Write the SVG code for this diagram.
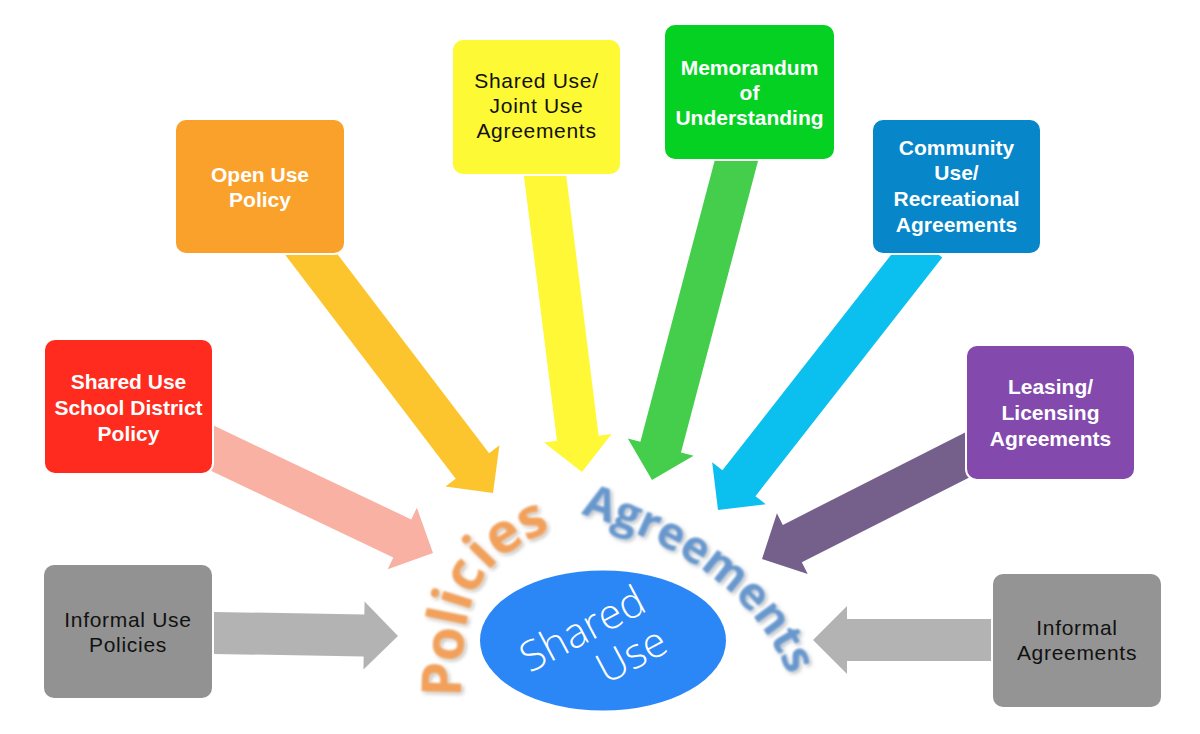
<svg xmlns="http://www.w3.org/2000/svg" width="1200" height="734" viewBox="0 0 1200 734">
<defs>
<style>
.box{stroke:#fff;stroke-width:2}
.w{fill:#fff;font-family:"Liberation Sans",Arial,sans-serif;font-size:21px;font-weight:700;text-anchor:middle}
.k{fill:#111;font-family:"Liberation Sans",Arial,sans-serif;font-size:21px;font-weight:400;letter-spacing:0.7px;text-anchor:middle}
.arc{font-family:"Open Sans","Liberation Sans",sans-serif;font-weight:700}
</style>
<filter id="soft" x="-20%" y="-20%" width="140%" height="140%">
<feGaussianBlur in="SourceAlpha" stdDeviation="2" result="b"/>
<feOffset in="b" dx="2" dy="2" result="o"/>
<feFlood flood-color="#000" flood-opacity="0.3"/>
<feComposite in2="o" operator="in" result="s"/>
<feGaussianBlur in="SourceGraphic" stdDeviation="0.8" result="g"/>
<feMerge><feMergeNode in="s"/><feMergeNode in="g"/></feMerge>
</filter>
<path id="polPath" d="M 461 697 C 462 590, 478 560, 552 530"/>
<path id="agrPath" d="M 581 514 C 676 542, 759 593, 792 684"/>
</defs>
<rect width="1200" height="734" fill="#fff"/>

<g id="connectors">
<polygon fill="#F9B1A3" transform="translate(433,553) rotate(25.4)" points="-258,-21 -34,-21 -34,-34 0,0 -34,34 -34,21 -258,21"/>
<polygon fill="#B3B3B3" transform="translate(398,636) rotate(0.95)" points="-198,-21 -34,-21 -34,-34 0,0 -34,34 -34,21 -198,21"/>
<polygon fill="#FCC52D" transform="translate(493,493) rotate(52.7)" points="-325,-21 -34,-21 -34,-34 0,0 -34,34 -34,21 -325,21"/>
<polygon fill="#FEF836" transform="translate(582,472) rotate(82.9)" points="-310,-21 -34,-21 -34,-34 0,0 -34,34 -34,21 -310,21"/>
<polygon fill="#44CE4B" transform="translate(652,480) rotate(104.8)" points="-341,-21 -34,-21 -34,-34 0,0 -34,34 -34,21 -341,21"/>
<polygon fill="#0BC0EF" transform="translate(718,510) rotate(128.05)" points="-337,-21 -34,-21 -34,-34 0,0 -34,34 -34,21 -337,21"/>
<polygon fill="#74608B" transform="translate(762,559) rotate(153.1)" points="-245,-21 -34,-21 -34,-34 0,0 -34,34 -34,21 -245,21"/>
<polygon fill="#B3B3B3" transform="translate(813,640) rotate(180)" points="-192,-21 -34,-21 -34,-34 0,0 -34,34 -34,21 -192,21"/>
</g>

<g id="node-school-district">
<rect class="box" x="44" y="339" width="169" height="135" rx="11" fill="#FE2B1E"/>
<text class="w"><tspan x="128.5" y="389">Shared Use</tspan><tspan x="128.5" y="415">School District</tspan><tspan x="128.5" y="441">Policy</tspan></text>
</g>
<g id="node-informal-use">
<rect class="box" x="43" y="564" width="170" height="135" rx="11" fill="#929292"/>
<text class="k"><tspan x="128" y="627">Informal Use</tspan><tspan x="128" y="652">Policies</tspan></text>
</g>
<g id="node-open-use">
<rect class="box" x="175" y="119" width="170" height="135" rx="11" fill="#F9A12B"/>
<text class="w"><tspan x="260" y="182">Open Use</tspan><tspan x="260" y="207">Policy</tspan></text>
</g>
<g id="node-joint-use">
<rect class="box" x="452" y="39" width="169" height="136" rx="11" fill="#FDF935"/>
<text class="k"><tspan x="536.5" y="88">Shared Use/</tspan><tspan x="536.5" y="113">Joint Use</tspan><tspan x="536.5" y="138">Agreements</tspan></text>
</g>
<g id="node-mou">
<rect class="box" x="664" y="24" width="171" height="136" rx="11" fill="#05D123"/>
<text class="w"><tspan x="749.5" y="75">Memorandum</tspan><tspan x="749.5" y="100">of</tspan><tspan x="749.5" y="125">Understanding</tspan></text>
</g>
<g id="node-community">
<rect class="box" x="872" y="119" width="169" height="135" rx="11" fill="#0786C9"/>
<text class="w"><tspan x="956.5" y="155">Community</tspan><tspan x="956.5" y="180">Use/</tspan><tspan x="956.5" y="206">Recreational</tspan><tspan x="956.5" y="232">Agreements</tspan></text>
</g>
<g id="node-leasing">
<rect class="box" x="966" y="345" width="169" height="135" rx="11" fill="#8349AD"/>
<text class="w"><tspan x="1050.5" y="394">Leasing/</tspan><tspan x="1050.5" y="420">Licensing</tspan><tspan x="1050.5" y="446">Agreements</tspan></text>
</g>
<g id="node-informal-agreements">
<rect class="box" x="992" y="573" width="170" height="135" rx="11" fill="#949494"/>
<text class="k"><tspan x="1077" y="635">Informal</tspan><tspan x="1077" y="660">Agreements</tspan></text>
</g>

<g id="node-policies-label" filter="url(#soft)">
<text class="arc" font-size="55" fill="#F2A05A"><textPath href="#polPath">Policies</textPath></text>
</g>
<g id="node-agreements-label" filter="url(#soft)">
<text class="arc" font-size="45" fill="#6797CD"><textPath href="#agrPath">Agreements</textPath></text>
</g>

<g id="node-shared-use">
<ellipse cx="603" cy="640.5" rx="123" ry="70" fill="#2B86F6"/>
<g transform="translate(603,640) rotate(-28)" font-family="'Open Sans','Liberation Sans',sans-serif" font-weight="300" font-size="42" fill="#fff" text-anchor="middle">
<text x="-13" y="-5">Shared</text>
<text x="18" y="41">Use</text>
</g>
</g>
</svg>
